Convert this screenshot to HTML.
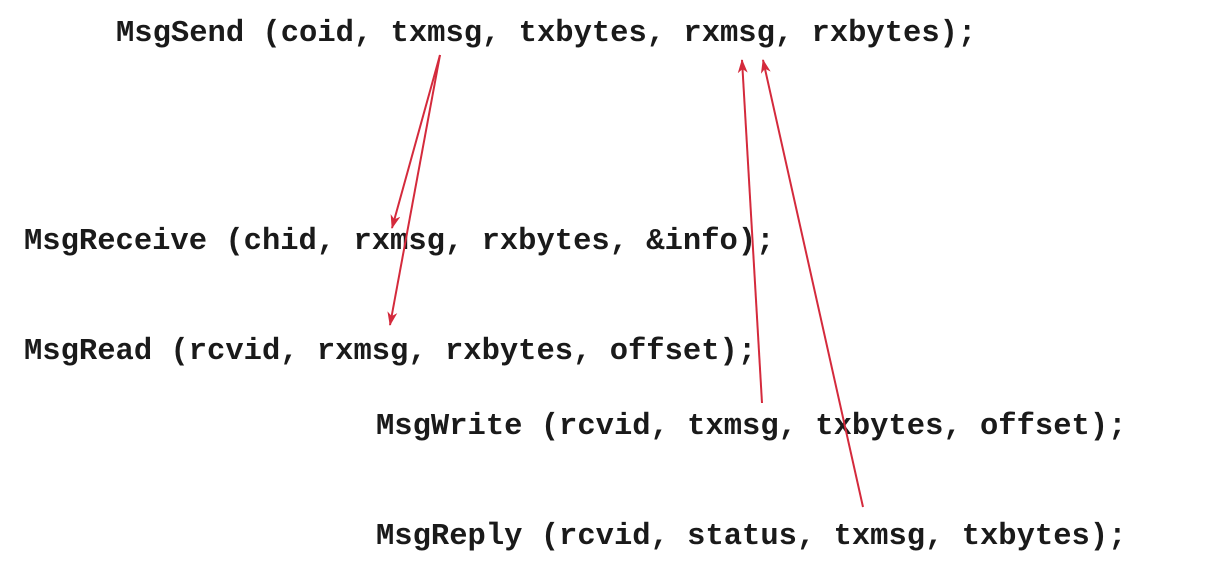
<!DOCTYPE html>
<html><head><meta charset="utf-8"><style>
html,body{margin:0;padding:0;background:#fff;}
body{width:1208px;height:568px;position:relative;overflow:hidden;}
.t{position:absolute;font-family:"Liberation Mono","Courier New",monospace;font-weight:bold;font-size:30.5px;line-height:1;color:#1a1a1a;white-space:pre;}
svg{position:absolute;left:0;top:0;}
</style></head><body>
<div class="t" style="left:116px;top:19px;">MsgSend (coid, txmsg, txbytes, rxmsg, rxbytes);</div>
<div class="t" style="left:24px;top:227px;">MsgReceive (chid, rxmsg, rxbytes, &amp;info);</div>
<div class="t" style="left:24px;top:337px;">MsgRead (rcvid, rxmsg, rxbytes, offset);</div>
<div class="t" style="left:376px;top:412px;">MsgWrite (rcvid, txmsg, txbytes, offset);</div>
<div class="t" style="left:376px;top:522px;">MsgReply (rcvid, status, txmsg, txbytes);</div>
<svg width="1208" height="568" viewBox="0 0 1208 568">
<defs><marker id="a" markerWidth="14" markerHeight="10" refX="13" refY="5" orient="auto" markerUnits="userSpaceOnUse">
<path d="M0,0 L14,5 L0,10 L4,5 Z" fill="#d42a3c"/></marker></defs>
<g stroke="#d42a3c" stroke-width="2" fill="none">
<line x1="440" y1="55" x2="392" y2="228" marker-end="url(#a)"/>
<line x1="440" y1="55" x2="390" y2="325" marker-end="url(#a)"/>
<line x1="762" y1="403" x2="742" y2="60" marker-end="url(#a)"/>
<line x1="863" y1="507" x2="763" y2="60" marker-end="url(#a)"/>
</g></svg>
</body></html>
